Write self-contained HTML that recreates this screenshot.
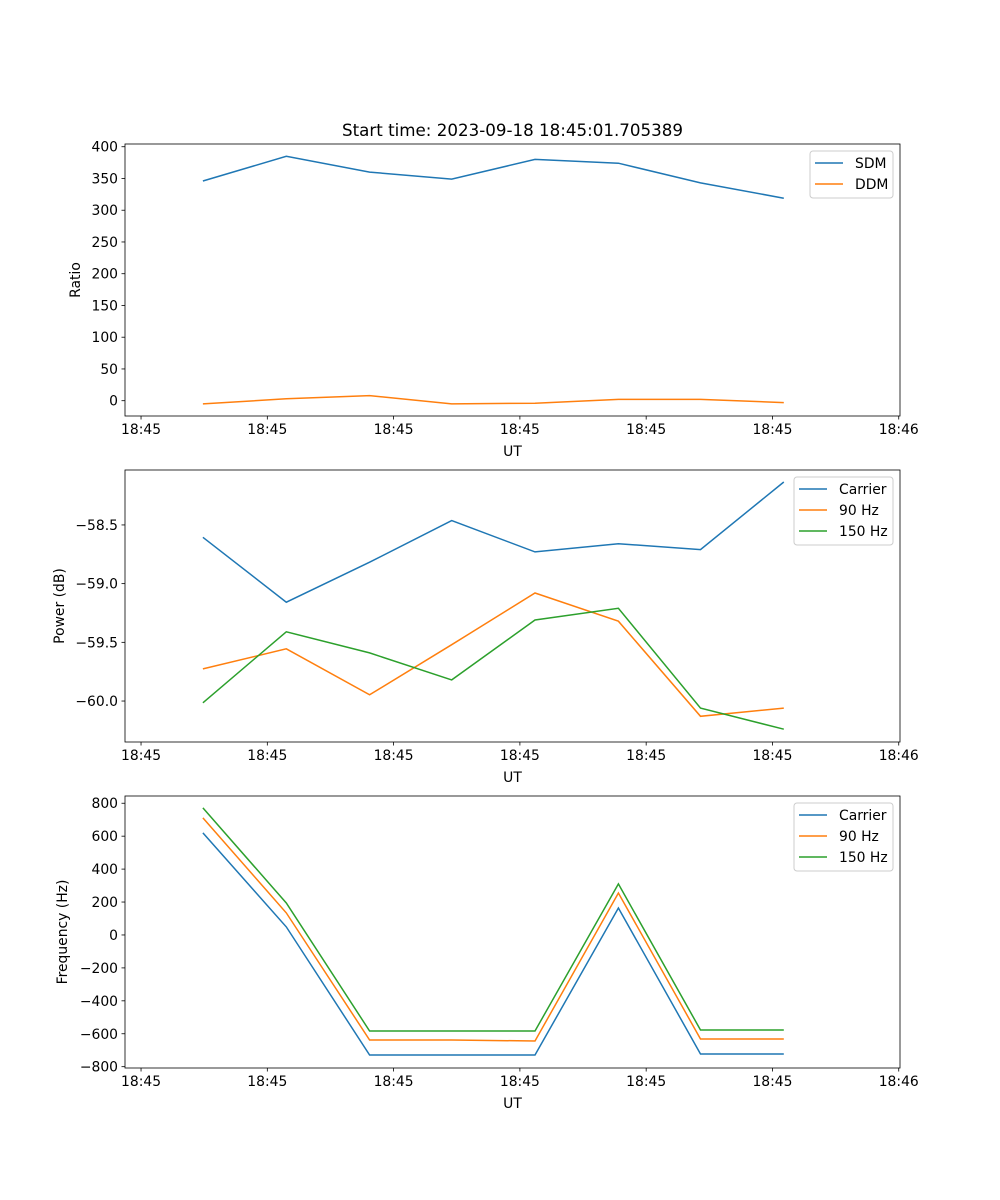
<!DOCTYPE html>
<html><head><meta charset="utf-8"><style>
html,body{margin:0;padding:0;background:#fff;overflow:hidden;width:1000px;height:1200px}
svg{display:block}
svg text{font-family:"DejaVu Sans","Liberation Sans",sans-serif;font-size:13.9px;fill:#000}
</style></head><body>
<svg id="fig" width="1000" height="1200" viewBox="0 0 1000 1200" xmlns="http://www.w3.org/2000/svg">
<rect width="1000" height="1200" fill="#fff"/>
<text x="512.5" y="136" text-anchor="middle" style="font-size:16.7px">Start time: 2023-09-18 18:45:01.705389</text>
</svg>
<script>
// shared x data (seconds after 18:45:00)
const times = [4.9, 11.5, 18.1, 24.6, 31.2, 37.8, 44.3, 50.9];
const xTicks = [0, 10, 20, 30, 40, 50, 60];
const xTickLabels = ["18:45","18:45","18:45","18:45","18:45","18:45","18:46"];
// panel 1
const ratioTicks = [0, 50, 100, 150, 200, 250, 300, 350, 400];
const sdm = [346, 385, 360, 349, 380, 374, 343, 319];
const ddm = [-5, 3, 8, -5, -4, 2, 2, -3];
// panel 2
const powerTicks = [-58.5, -59.0, -59.5, -60.0];
const powerTickLabels = ["\u221258.5","\u221259.0","\u221259.5","\u221260.0"];
const powCarrier = [-58.605, -59.158, -58.817, -58.463, -58.73, -58.66, -58.71, -58.134];
const pow90 = [-59.726, -59.555, -59.947, -59.52, -59.08, -59.32, -60.13, -60.06];
const pow150 = [-60.015, -59.41, -59.59, -59.82, -59.31, -59.21, -60.06, -60.24];
// panel 3
const freqTicks = [800, 600, 400, 200, 0, -200, -400, -600, -800];
const freqCarrier = [620, 49, -729, -729, -729, 164, -723, -723];
const freq90 = [711, 134, -638, -638, -644, 255, -632, -632];
const freq150 = [772, 194, -583, -583, -583, 310, -577, -577];

const NS = "http://www.w3.org/2000/svg";
const svg = document.getElementById('fig');
const C = ['#1f77b4', '#ff7f0e', '#2ca02c'];
function mk(tag, attrs, parent) {
  const e = document.createElementNS(NS, tag);
  for (const k in attrs) e.setAttribute(k, attrs[k]);
  (parent || svg).appendChild(e);
  return e;
}
const L = 125, R = 900, X0 = -1.27, X1 = 60.1;
function xs(t) { return L + (t - X0) / (X1 - X0) * (R - L); }

function panel(name, top, bottom, y0, y1, ticks, tickLabels, ylabel, ylabelX, series, names, legend) {
  const g = mk('g', {});
  
  
  const ys = v => bottom - (v - y0) / (y1 - y0) * (bottom - top);
  series.forEach((s, i) => {
    const p = mk('polyline', {points: s.map((v, j) => xs(times[j]).toFixed(1) + ',' + ys(v).toFixed(1)).join(' '), fill: 'none', stroke: C[i], 'stroke-width': 1.5}, g);
    
    
  });
  const f = mk('rect', {x: L, y: top, width: R - L, height: bottom - top, fill: 'none', stroke: '#000', 'stroke-width': 0.8}, g);
  
  
  xTicks.forEach((t, i) => {
    const x = xs(t);
    mk('line', {x1: x, x2: x, y1: bottom, y2: bottom + 3.5, stroke: '#000', 'stroke-width': 0.8}, g);
    const tx = mk('text', {x: x, y: bottom + 18, 'text-anchor': 'middle'}, g);
    tx.textContent = xTickLabels[i];
    
    
  });
  const xl = mk('text', {x: 512.5, y: bottom + 40, 'text-anchor': 'middle'}, g);
  xl.textContent = 'UT';
  
  
  ticks.forEach((v, i) => {
    const y = ys(v);
    mk('line', {x1: L - 3.5, x2: L, y1: y, y2: y, stroke: '#000', 'stroke-width': 0.8}, g);
    const tx = mk('text', {x: L - 7, y: y + 5, 'text-anchor': 'end'}, g);
    tx.textContent = tickLabels[i];
    
    
  });
  const cy = (top + bottom) / 2;
  const yl = mk('text', {x: ylabelX, y: cy, 'text-anchor': 'middle', transform: 'rotate(-90 ' + ylabelX + ' ' + cy + ')'}, g);
  yl.textContent = ylabel;
  
  
  // legend
  const lg = mk('g', {}, g);
  
  
  mk('rect', {x: legend, y: top + 7, width: 893 - legend, height: 5 + names.length * 21, rx: 3, fill: '#fff', 'fill-opacity': 0.8, stroke: '#ccc', 'stroke-width': 1}, lg);
  names.forEach((n, i) => {
    const y = top + 19 + i * 21;
    mk('line', {x1: legend + 5, x2: legend + 33, y1: y, y2: y, stroke: C[i], 'stroke-width': 1.5}, lg);
    const tx = mk('text', {x: legend + 45, y: y + 5}, lg);
    tx.textContent = n;
    
    
  });
}
panel('ratio', 144, 416, -24.1, 404.3, ratioTicks, ratioTicks.map(String), 'Ratio', 80, [sdm, ddm], ['SDM', 'DDM'], 810);
panel('power', 470, 742, -60.349, -58.032, powerTicks, powerTickLabels, 'Power (dB)', 64, [powCarrier, pow90, pow150], ['Carrier', '90 Hz', '150 Hz'], 794);
panel('frequency', 796, 1068, -808, 844, freqTicks, freqTicks.map(v => v < 0 ? '\u2212' + (-v) : String(v)), 'Frequency (Hz)', 67, [freqCarrier, freq90, freq150], ['Carrier', '90 Hz', '150 Hz'], 794);
</script>
</body></html>
